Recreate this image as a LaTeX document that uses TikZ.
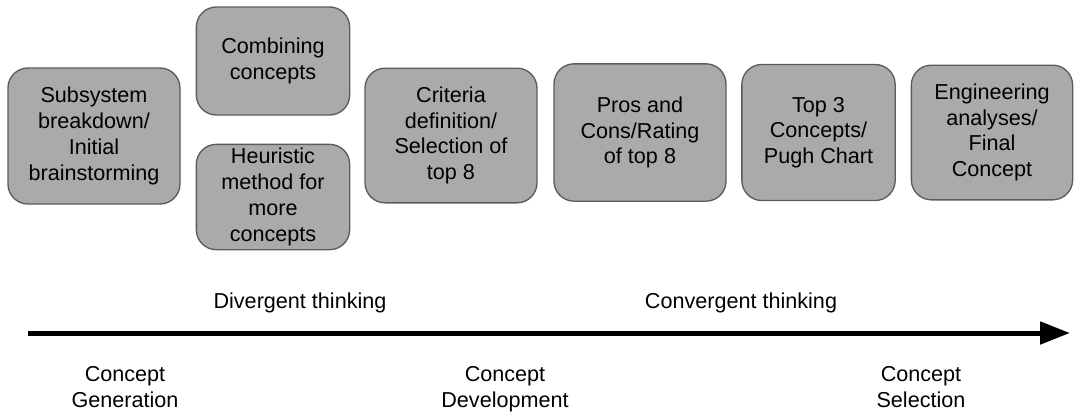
\documentclass[tikz,border=0pt]{standalone}
\usepackage{fontspec}
\setmainfont{Liberation Sans}
\usetikzlibrary{arrows.meta}
\definecolor{BoxClr}{rgb}{0.667,0.667,0.667}
\definecolor{EdgeClr}{rgb}{0.36,0.36,0.36}

\begin{document}
\begin{tikzpicture}[x=0.75pt,y=-0.75pt,
  stage/.style={draw=EdgeClr,fill=BoxClr,line width=1pt,rounded corners=15pt,
    align=center,inner sep=0pt,font=\fontsize{16.2}{19.3}\selectfont},
  phase/.style={align=center,inner sep=0pt,font=\fontsize{16.2}{19.5}\selectfont}]
\useasboundingbox (0,0) rectangle (1075,415);

\node[stage,minimum width=129pt,minimum height=102pt] (sub) at (94,136)
  {Subsystem\\breakdown/\\Initial\\brainstorming};
\node[stage,minimum width=115pt,minimum height=81pt] (comb) at (273,61)
  {Combining\\concepts};
\node[stage,minimum width=115pt,minimum height=79pt] (heur) at (273,197)
  {Heuristic\\method for\\more\\concepts};
\node[stage,minimum width=129pt,minimum height=101pt] (crit) at (451,135.5)
  {Criteria\\definition/\\Selection of\\top 8};
\node[stage,minimum width=129pt,minimum height=103pt] (pros) at (640,132.5)
  {Pros and\\Cons/Rating\\of top 8};
\node[stage,minimum width=115pt,minimum height=102pt] (top) at (818.5,132.5)
  {Top 3\\Concepts/\\Pugh Chart};
\node[stage,minimum width=121pt,minimum height=101pt] (eng) at (992,132.5)
  {Engineering\\analyses/\\Final\\Concept};

\coordinate (tail) at (28,333);
\coordinate (head) at (1070,333);
\draw[line width=3.75pt,-{Triangle[length=22.5pt,width=16.5pt]}] (tail) -- (head);

\node[phase] (div) at (300,303) {Divergent thinking};
\node[phase] (conv) at (741,303) {Convergent thinking};

\node[phase,anchor=north] (gen) at (125,366) {Concept\\Generation};
\node[phase,anchor=north] (dev) at (505,366) {Concept\\Development};
\node[phase,anchor=north] (sel) at (921,366) {Concept\\Selection};

\end{tikzpicture}
\end{document}
